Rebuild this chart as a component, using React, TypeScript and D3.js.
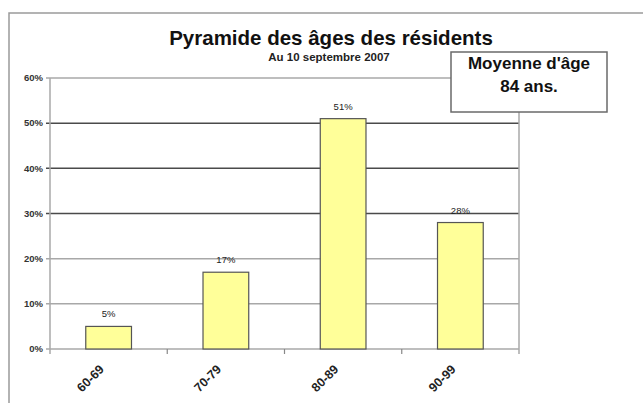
import * as d3 from "d3";

const categories = ["60-69", "70-79", "80-89", "90-99"];
const shares = [5, 17, 51, 28];
const yTicks = [0, 10, 20, 30, 40, 50, 60];
const darkGrid = [30, 40, 50];

const W = 643;
const H = 403;
const plot = { left: 50, right: 519, top: 78, bottom: 349 };
const font = "'Liberation Sans', Arial, sans-serif";

export default function App() {
  const x = d3
    .scaleBand<string>()
    .domain(categories)
    .range([plot.left, plot.right])
    .paddingInner(0.61)
    .paddingOuter(0.305);
  const xEdges = d3.scaleLinear().domain([0, categories.length]).range([plot.left, plot.right]);
  const y = d3.scaleLinear().domain([0, 60]).range([plot.bottom, plot.top]);

  return (
    <svg
      width={W}
      height={H}
      style={{ position: "absolute", left: 0, top: 0, background: "#fff" }}
      fontFamily={font}
    >
      {/* chart frame */}
      <path d={`M9,${H} V13 H${W}`} fill="none" stroke="#9a9a9a" strokeWidth={1.5} />

      <text x={331} y={45} textAnchor="middle" fontSize={20.5} fontWeight="bold" fill="#111">
        Pyramide des âges des résidents
      </text>
      <text x={329} y={61} textAnchor="middle" fontSize={11.5} fontWeight="bold" fill="#222">
        Au 10 septembre 2007
      </text>

      {/* gridlines */}
      {yTicks.map((t) => (
        <line
          key={t}
          x1={plot.left - 4}
          x2={plot.right}
          y1={y(t)}
          y2={y(t)}
          stroke={darkGrid.includes(t) ? "#4a4a4a" : "#a8a8a8"}
          strokeWidth={1.5}
        />
      ))}
      <line x1={plot.left} x2={plot.left} y1={plot.top} y2={plot.bottom + 5} stroke="#a8a8a8" strokeWidth={1.5} />
      <line x1={plot.right} x2={plot.right} y1={plot.top} y2={plot.bottom + 5} stroke="#a8a8a8" strokeWidth={1.5} />
      {d3.range(1, categories.length).map((i) => (
        <line
          key={i}
          x1={xEdges(i)}
          x2={xEdges(i)}
          y1={plot.bottom}
          y2={plot.bottom + 5}
          stroke="#888"
          strokeWidth={1.2}
        />
      ))}

      {/* y labels */}
      {yTicks.map((t) => (
        <text key={t} x={43} y={y(t)} dy="0.35em" textAnchor="end" fontSize={9.5} fontWeight="bold" fill="#333">
          {t}%
        </text>
      ))}

      {/* bars */}
      {categories.map((c, i) => (
        <g key={c}>
          <rect
            x={x(c)}
            y={y(shares[i])}
            width={x.bandwidth()}
            height={y(0) - y(shares[i])}
            fill="#ffff99"
            stroke="#555"
            strokeWidth={1.2}
          />
          <text
            x={(x(c) ?? 0) + x.bandwidth() / 2}
            y={y(shares[i]) - 9}
            textAnchor="middle"
            fontSize={9.5}
            fill="#222"
          >
            {shares[i]}%
          </text>
          <text
            transform={`translate(${(x(c) ?? 0) + x.bandwidth() / 2 - 7},${plot.bottom + 18}) rotate(-45)`}
            textAnchor="end"
            dy="0.35em"
            fontSize={12.5}
            fontWeight="bold"
            fill="#222"
          >
            {c}
          </text>
        </g>
      ))}

      {/* average age box */}
      <rect x={451} y={52} width={156} height={60} fill="#fff" stroke="#6a6a6a" strokeWidth={1.5} />
      <text x={529} y={69} textAnchor="middle" fontSize={17} fontWeight="bold" fill="#111">
        Moyenne d'âge
      </text>
      <text x={529} y={92} textAnchor="middle" fontSize={17} fontWeight="bold" fill="#111">
        84 ans.
      </text>
    </svg>
  );
}
